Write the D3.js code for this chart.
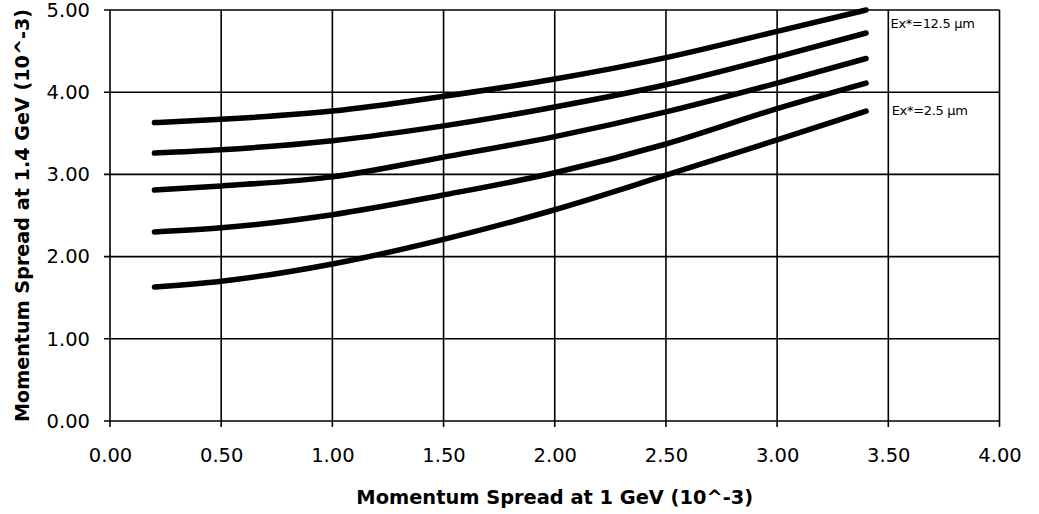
<!DOCTYPE html>
<html><head><meta charset="utf-8">
<script src="https://cdn.jsdelivr.net/npm/d3@7"></script>
<style>html,body{margin:0;padding:0;background:#fff;}svg{display:block;}</style>
</head><body>
<svg id="chart" width="1039" height="514"></svg>
<script>
const xValues = [0.2, 0.5, 1.0, 1.5, 2.0, 2.5, 3.0, 3.4];
const series1 = [3.63, 3.67, 3.77, 3.95, 4.16, 4.42, 4.74, 5.00];
const series2 = [3.26, 3.30, 3.41, 3.59, 3.82, 4.09, 4.43, 4.72];
const series3 = [2.81, 2.86, 2.97, 3.21, 3.46, 3.76, 4.11, 4.41];
const series4 = [2.30, 2.35, 2.51, 2.75, 3.02, 3.37, 3.80, 4.11];
const series5 = [1.63, 1.70, 1.91, 2.21, 2.57, 2.99, 3.42, 3.77];
const xTicks = [0, 0.5, 1.0, 1.5, 2.0, 2.5, 3.0, 3.5, 4.0];
const yTicks = [0, 1, 2, 3, 4, 5];
const annotations = [{text: "Ex*=12.5 μm", x: 3.51, y: 4.78}, {text: "Ex*=2.5 μm", x: 3.515, y: 3.72}];
const xTitle = "Momentum Spread at 1 GeV (10^-3)";
const yTitle = "Momentum Spread at 1.4 GeV (10^-3)";

const svg = d3.select("#chart");
const L = 110, R = 999.5, T = 10, B = 421;
const x = d3.scaleLinear().domain([0, 4]).range([L, R]);
const y = d3.scaleLinear().domain([0, 5]).range([B, T]);
const font = "'DejaVu Sans', sans-serif";

// grid
const g = svg.append("g");
g.selectAll(".vg").data(xTicks).join("line")
  .attr("x1", d => x(d)).attr("x2", d => x(d)).attr("y1", T).attr("y2", B + 6)
  .attr("stroke", "#000").attr("stroke-width", 1.6);
g.selectAll(".hg").data(yTicks).join("line")
  .attr("x1", L - 6).attr("x2", R).attr("y1", d => y(d)).attr("y2", d => y(d))
  .attr("stroke", "#000").attr("stroke-width", 1.6);

// axes labels via d3 axes (no domain lines)
const xAxis = svg.append("g").attr("transform", `translate(0,${B})`)
  .call(d3.axisBottom(x).tickValues(xTicks).tickFormat(d3.format(".2f")).tickSize(0).tickPadding(27));
const yAxis = svg.append("g").attr("transform", `translate(${L},0)`)
  .call(d3.axisLeft(y).tickValues(yTicks).tickFormat(d3.format(".2f")).tickSize(0).tickPadding(20));
[xAxis, yAxis].forEach(a => {
  a.select(".domain").remove();
  a.selectAll("text").attr("font-family", font).attr("font-size", 19.5).attr("fill", "#000");
});

// curves
const line = d3.line().x(d => x(d[0])).y(d => y(d[1])).curve(d3.curveMonotoneX);
[series1, series2, series3, series4, series5].forEach(s => {
  svg.append("path").datum(xValues.map((v, i) => [v, s[i]]))
    .attr("d", line).attr("fill", "none").attr("stroke", "#000")
    .attr("stroke-width", 5.5).attr("stroke-linecap", "round");
});

// annotations
svg.selectAll(".ann").data(annotations).join("text")
  .attr("x", d => x(d.x)).attr("y", d => y(d.y))
  .attr("font-family", font).attr("font-size", 13).attr("fill", "#000")
  .attr("letter-spacing", -0.3)
  .text(d => d.text);

// titles
svg.append("text").attr("x", (L + R) / 2).attr("y", 504).attr("text-anchor", "middle")
  .attr("font-family", font).attr("font-weight", "bold").attr("font-size", 19.4).text(xTitle);
svg.append("text").attr("transform", `translate(29,${(T + B) / 2}) rotate(-90)`)
  .attr("text-anchor", "middle").attr("font-family", font).attr("font-weight", "bold")
  .attr("font-size", 19.2).text(yTitle);
</script>
</body></html>
